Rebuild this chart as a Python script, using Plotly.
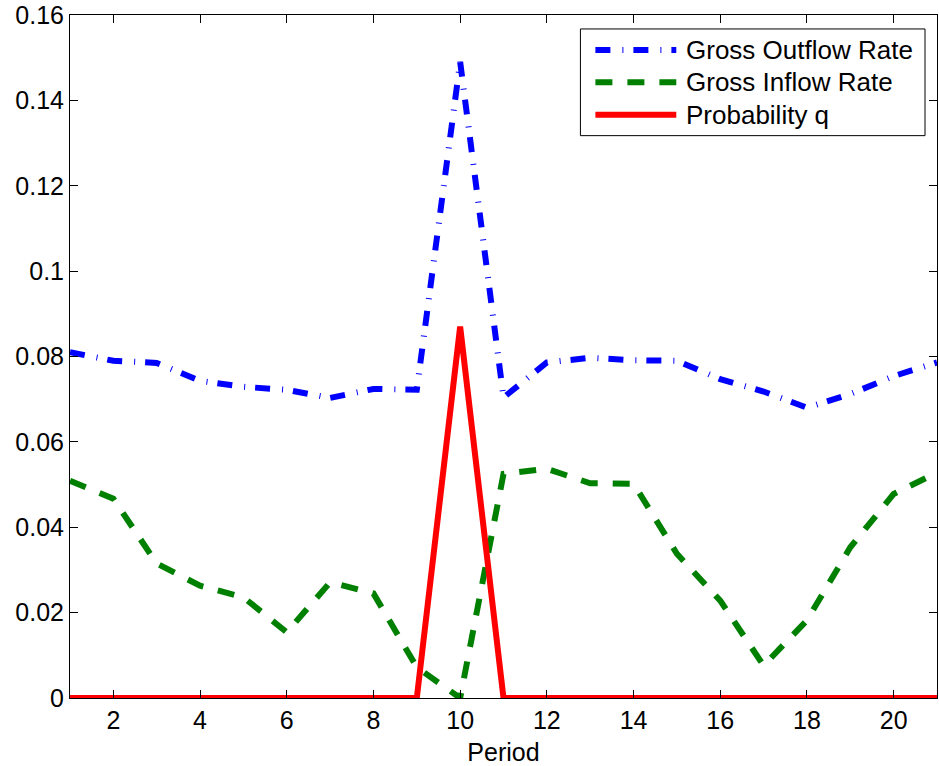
import plotly.graph_objects as go

# Period index
period = list(range(1, 22))

# Series values
gross_outflow = [0.081, 0.079, 0.0785, 0.0743, 0.0729, 0.0722, 0.0703, 0.0724, 0.0722,
                 0.149, 0.0704, 0.0786, 0.0797, 0.0791, 0.079, 0.0747, 0.0718, 0.068,
                 0.0712, 0.0754, 0.0786]
gross_inflow = [0.0509, 0.0467, 0.0315, 0.0263, 0.0236, 0.0154, 0.0271, 0.0245, 0.0072,
                0.0, 0.0525, 0.0537, 0.0503, 0.0502, 0.0338, 0.0228, 0.0076, 0.0182,
                0.0353, 0.0478, 0.0528]
prob_q = [0, 0, 0, 0, 0, 0, 0, 0, 0, 0.087, 0, 0, 0, 0, 0, 0, 0, 0, 0, 0, 0]

series_names = ["Gross Outflow Rate", "Gross Inflow Rate", "Probability q"]

# Axis ticks
x_ticks = [2, 4, 6, 8, 10, 12, 14, 16, 18, 20]
y_ticks = [0, 0.02, 0.04, 0.06, 0.08, 0.1, 0.12, 0.14, 0.16]
y_tick_labels = ["0", "0.02", "0.04", "0.06", "0.08", "0.1", "0.12", "0.14", "0.16"]

FONT = "Liberation Sans, Arial, sans-serif"
FS = 25
FS_LEG = 26

styles = [
    dict(color="#0000ff", width=6, dash="15px,12px,1px,10px"),
    dict(color="#008000", width=6, dash="17px,15px"),
    dict(color="#ff0000", width=6, dash="solid"),
]

W, H = 939, 766
ML, MR, MT, MB = 70, 1, 13, 68
PW, PH = W - ML - MR, H - MT - MB

fig = go.Figure()
for name, ys, st in zip(series_names, [gross_outflow, gross_inflow, prob_q], styles):
    fig.add_trace(go.Scatter(x=period, y=ys, mode="lines", name=name, line=st,
                             showlegend=False))

axis_common = dict(
    showgrid=False, zeroline=False, showline=True, linecolor="black", linewidth=1,
    mirror="ticks", ticks="inside", ticklen=8, tickcolor="black", tickwidth=1,
    tickfont=dict(family=FONT, size=FS, color="black"),
    ticklabeloverflow="allow",
)


def px_x(p):
    return (p - ML) / PW


def px_y(p):
    return (H - MB - p) / PH


# Legend box drawn in paper coordinates
shapes = [dict(type="rect", xref="paper", yref="paper",
               x0=px_x(581), x1=px_x(926), y0=px_y(134), y1=px_y(27),
               line=dict(color="black", width=1), fillcolor="white", layer="above")]
annotations = []
for i, (name, st) in enumerate(zip(series_names, styles)):
    yrow = 48 + 32.5 * i
    shapes.append(dict(type="line", xref="paper", yref="paper",
                       x0=px_x(596), x1=px_x(677), y0=px_y(yrow), y1=px_y(yrow),
                       line=st, layer="above"))
    annotations.append(dict(xref="paper", yref="paper", x=px_x(685), y=px_y(yrow),
                            xanchor="left", yanchor="middle", text=name, showarrow=False,
                            font=dict(family=FONT, size=FS_LEG, color="black")))

fig.update_layout(
    width=W, height=H,
    margin=dict(l=ML, r=MR, t=MT, b=MB),
    paper_bgcolor="white", plot_bgcolor="white",
    font=dict(family=FONT, size=FS, color="black"),
    xaxis=dict(range=[1, 21], tickvals=x_ticks,
               title=dict(text="Period", font=dict(family=FONT, size=FS), standoff=10),
               **axis_common),
    yaxis=dict(range=[0, 0.16], tickvals=y_ticks, ticktext=y_tick_labels, **axis_common),
    shapes=shapes,
    annotations=annotations,
    showlegend=False,
)

fig.write_html("out.html")
